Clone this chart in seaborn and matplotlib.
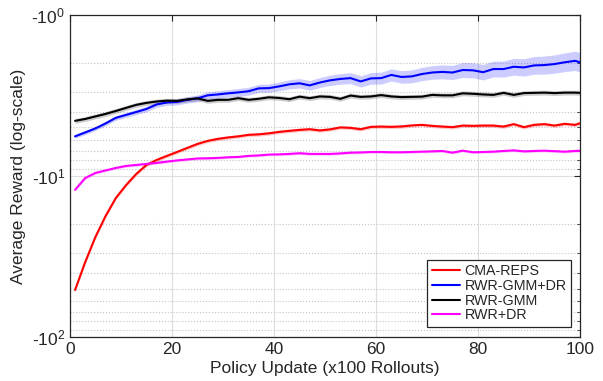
import numpy as np
import pandas as pd
import matplotlib
matplotlib.use("Agg")
import matplotlib.pyplot as plt
import seaborn as sns
from matplotlib.ticker import LogLocator, NullFormatter, FixedLocator

# ---- data (negated average reward) ----
updates = list(range(1, 100, 2)) + [100]

cma_reps = [51.1, 34.2, 23.9, 17.7, 13.7, 11.4, 9.72, 8.55, 7.96, 7.51,
            7.10, 6.70, 6.33, 6.06, 5.89, 5.77, 5.68, 5.56, 5.52, 5.44,
            5.33, 5.25, 5.18, 5.13, 5.22, 5.14, 5.00, 5.03, 5.13, 4.96,
            4.94, 4.96, 4.93, 4.86, 4.82, 4.89, 4.94, 4.98, 4.87, 4.89,
            4.87, 4.87, 4.94, 4.77, 4.98, 4.82, 4.77, 4.87, 4.75, 4.82, 4.71]

rwr_gmm_dr = [5.68, 5.37, 5.07, 4.72, 4.36, 4.18, 4.01, 3.84, 3.60, 3.50,
              3.47, 3.37, 3.30, 3.16, 3.12, 3.07, 3.03, 2.98, 2.86, 2.85,
              2.78, 2.70, 2.66, 2.74, 2.63, 2.55, 2.50, 2.47, 2.59, 2.48,
              2.47, 2.36, 2.43, 2.41, 2.33, 2.28, 2.26, 2.28, 2.20, 2.21,
              2.27, 2.17, 2.17, 2.10, 2.12, 2.06, 2.05, 2.02, 1.97, 1.93, 1.97]

rwr_gmm = [4.55, 4.43, 4.27, 4.12, 3.95, 3.78, 3.62, 3.52, 3.45, 3.41,
           3.42, 3.35, 3.30, 3.42, 3.37, 3.37, 3.29, 3.37, 3.32, 3.25,
           3.28, 3.34, 3.22, 3.29, 3.21, 3.23, 3.32, 3.17, 3.23, 3.21,
           3.15, 3.21, 3.24, 3.23, 3.22, 3.14, 3.16, 3.16, 3.07, 3.09,
           3.12, 3.14, 3.05, 3.14, 3.06, 3.05, 3.04, 3.06, 3.04, 3.04, 3.05]

rwr_dr = [12.2, 10.3, 9.58, 9.24, 8.92, 8.67, 8.55, 8.42, 8.30, 8.15,
          8.01, 7.90, 7.79, 7.77, 7.73, 7.66, 7.62, 7.51, 7.46, 7.37,
          7.35, 7.30, 7.23, 7.30, 7.30, 7.30, 7.25, 7.17, 7.15, 7.10,
          7.10, 7.13, 7.13, 7.10, 7.07, 7.04, 7.00, 7.17, 6.97, 7.13,
          7.10, 7.07, 7.00, 6.94, 7.04, 7.00, 6.97, 7.02, 7.07, 7.00, 6.97]

# half-width of shaded band, in log10 units
spread_gmm_dr = [0.012, 0.013, 0.013, 0.014, 0.015, 0.015, 0.016, 0.017, 0.018, 0.018,
                 0.019, 0.020, 0.021, 0.022, 0.022, 0.023, 0.024, 0.025, 0.025, 0.026,
                 0.027, 0.028, 0.029, 0.030, 0.031, 0.032, 0.033, 0.034, 0.035, 0.036,
                 0.037, 0.038, 0.039, 0.040, 0.041, 0.042, 0.043, 0.044, 0.046, 0.047,
                 0.048, 0.049, 0.050, 0.052, 0.054, 0.055, 0.056, 0.057, 0.058, 0.060, 0.060]
spread_gmm = [0.015] * len(updates)
spread_cma = [0.011] * len(updates)
spread_dr = [0.008] * len(updates)

ytick_labels = ["-10$\\mathregular{^{0}}$", "-10$\\mathregular{^{1}}$", "-10$\\mathregular{^{2}}$"]

methods = ["CMA-REPS", "RWR-GMM+DR", "RWR-GMM", "RWR+DR"]
colors = {"CMA-REPS": "#ff0000", "RWR-GMM+DR": "#0000ff",
          "RWR-GMM": "#000000", "RWR+DR": "#ff00ff"}
series = {"CMA-REPS": (cma_reps, spread_cma),
          "RWR-GMM+DR": (rwr_gmm_dr, spread_gmm_dr),
          "RWR-GMM": (rwr_gmm, spread_gmm),
          "RWR+DR": (rwr_dr, spread_dr)}

rows = []
for m in methods:
    for u, v in zip(updates, series[m][0]):
        rows.append({"update": u, "value": v, "method": m})
df = pd.DataFrame(rows)

# ---- style ----
sns.set_theme(style="white")
plt.rcParams["font.family"] = ["Liberation Sans", "DejaVu Sans"]
plt.rcParams["mathtext.fontset"] = "custom"
plt.rcParams["mathtext.rm"] = "Liberation Sans"
plt.rcParams["mathtext.it"] = "Liberation Sans:italic"

fig = plt.figure(figsize=(6.03, 3.81), dpi=100)
ax = fig.add_axes([0.116, 0.1155, 0.846, 0.8455])

for m in methods:
    vals, spr = series[m]
    vals = np.asarray(vals)
    spr = np.asarray(spr)
    ax.fill_between(updates, vals / 10 ** spr, vals * 10 ** spr,
                    color=colors[m], alpha=0.2, linewidth=0, zorder=2)

sns.lineplot(data=df, x="update", y="value", hue="method", hue_order=methods,
             palette=colors, errorbar=None, linewidth=1.5, ax=ax, zorder=3)

ax.set_yscale("log")
ax.set_ylim(100, 1)
ax.set_xlim(0, 100)
ax.set_xticks([0, 20, 40, 60, 80, 100])
ax.yaxis.set_major_locator(FixedLocator([1, 10, 100]))
ax.set_yticklabels(ytick_labels)
ax.yaxis.set_minor_locator(LogLocator(base=10, subs=range(2, 10)))
ax.yaxis.set_minor_formatter(NullFormatter())

ax.grid(which="major", axis="both", color="#dedede", linestyle="-", linewidth=0.8, zorder=0)
ax.grid(which="minor", axis="y", color="#c4c4c4", linestyle=":", linewidth=0.8, zorder=0)
ax.set_axisbelow(True)

ax.tick_params(axis="both", which="both", direction="in", top=True, right=True,
               colors="#262626", labelsize=12.5)
ax.tick_params(which="major", length=4, width=0.8)
ax.tick_params(which="minor", length=2.5, width=0.6)
for s in ax.spines.values():
    s.set_color("#262626")
    s.set_linewidth(0.9)

ax.set_xlabel("Policy Update (x100 Rollouts)", fontsize=12.5, color="#262626", labelpad=3)
ax.set_ylabel("Average Reward (log-scale)", fontsize=12.5, color="#262626", labelpad=4)

handles, labels = ax.get_legend_handles_labels()
leg = ax.legend(handles, labels, loc="lower right", bbox_to_anchor=(0.982, 0.032),
                borderaxespad=0, frameon=True, fancybox=False, framealpha=1,
                edgecolor="#262626", fontsize=10.3, handlelength=2.0,
                handletextpad=0.3, labelspacing=0.05, borderpad=0.3)
leg.get_frame().set_linewidth(0.9)

fig.savefig("out.png", dpi=100)
